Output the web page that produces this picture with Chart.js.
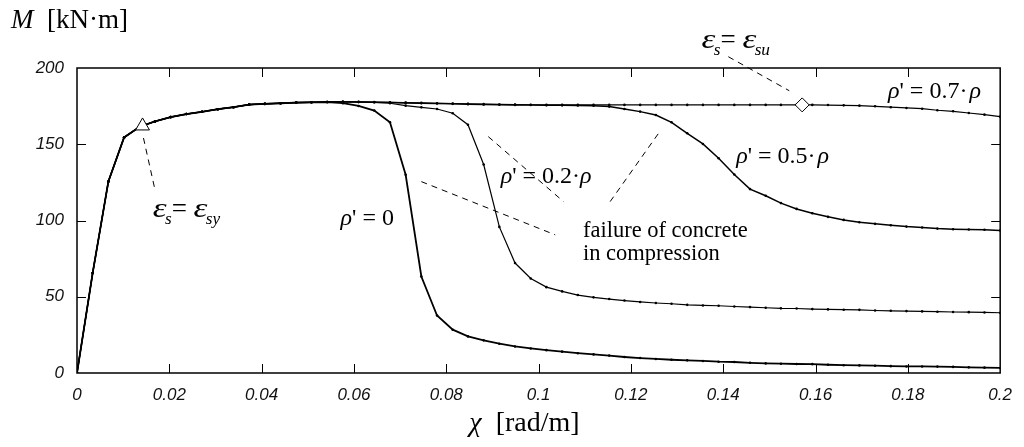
<!DOCTYPE html>
<html>
<head>
<meta charset="utf-8">
<script src="https://cdn.jsdelivr.net/npm/chart.js@4/dist/chart.umd.min.js"></script>
<style>
  html, body { margin: 0; padding: 0; background: #fff; }
  #wrap { width: 1024px; height: 447px; }
</style>
</head>
<body>
<div id="wrap"><canvas id="myChart" width="1024" height="447"></canvas></div>
<script>
// curvature chi [rad/m] (one point per marker dot)
const chi = [0, 0.0034, 0.0068, 0.0102, 0.0136, 0.0169, 0.0203, 0.0237, 0.0271, 0.0305,
  0.0339, 0.0373, 0.0407, 0.0441, 0.0475, 0.0508, 0.0542, 0.0576, 0.0610, 0.0644,
  0.0678, 0.0712, 0.0746, 0.0780, 0.0814, 0.0847, 0.0881, 0.0915, 0.0949, 0.0983,
  0.1017, 0.1051, 0.1085, 0.1119, 0.1153, 0.1186, 0.1220, 0.1254, 0.1288, 0.1322,
  0.1356, 0.1390, 0.1424, 0.1458, 0.1492, 0.1525, 0.1559, 0.1593, 0.1627, 0.1661,
  0.1695, 0.1729, 0.1763, 0.1797, 0.1831, 0.1864, 0.1898, 0.1932, 0.1966, 0.2];

// moment M [kN·m] for each compression reinforcement ratio
const mRho0 = [0, 65.6, 125.6, 154.5, 161.5, 165, 167.8, 169.8, 171.3, 173,
  174.3, 176, 176.5, 176.9, 177.3, 177.5, 177.7, 176.9, 175.1, 172.1,
  164.4, 130, 63.3, 37.7, 28.4, 24.0, 21.4, 19.2, 17.4, 16.1,
  15.0, 14.0, 13.0, 12.2, 11.4, 10.5, 9.8, 9.2, 8.7, 8.3,
  7.9, 7.4, 7.2, 6.7, 6.3, 6.1, 5.9, 5.8, 5.4, 5.1,
  5.0, 4.8, 4.5, 4.3, 4.3, 4.2, 4.0, 3.7, 3.5, 3.3];

const mRho02 = [0, 65.6, 125.6, 154.5, 161.5, 165, 167.8, 169.8, 171.3, 173,
  174.3, 176, 176.5, 176.9, 177.3, 177.5, 177.7, 177.8, 177.7, 177.5,
  176.9, 175.3, 174.2, 173.1, 170.3, 162.8, 136.7, 95.8, 72.1, 62.0,
  56.3, 53.5, 51.1, 49.6, 48.5, 47.5, 46.6, 45.9, 45.4, 44.7,
  44.3, 44.1, 43.6, 43.2, 42.8, 42.4, 42.3, 41.9, 41.7, 41.5,
  41.4, 41.0, 40.8, 40.6, 40.4, 40.2, 40.0, 39.9, 39.7, 39.5];

const mRho05 = [0, 65.6, 125.6, 154.5, 161.5, 165, 167.8, 169.8, 171.3, 173,
  174.3, 176, 176.5, 176.9, 177.3, 177.5, 177.7, 177.8, 177.7, 177.5,
  177.3, 177.1, 176.9, 176.7, 176.5, 176.3, 176.1, 175.9, 175.8, 175.7,
  175.6, 175.5, 175.4, 175.3, 174.7, 173.1, 171.4, 169.2, 164.4, 157.2,
  150.2, 140.8, 130.2, 120.6, 116.2, 111.4, 107.6, 104.8, 102.4, 100.4,
  98.9, 97.8, 96.9, 96.0, 95.4, 94.7, 94.3, 94.1, 93.9, 93.4];

const mRho07 = [0, 65.6, 125.6, 154.5, 161.5, 165, 167.8, 169.8, 171.3, 173,
  174.3, 176, 176.5, 176.9, 177.3, 177.5, 177.7, 177.8, 177.8, 177.7,
  177.5, 177.3, 177.1, 176.9, 176.7, 176.5, 176.3, 176.1, 176.0, 175.9,
  175.8, 175.8, 175.8, 175.8, 175.8, 175.8, 175.8, 175.8, 175.8, 175.8,
  175.8, 175.8, 175.8, 175.8, 175.8, 175.8, 175.8, 175.8, 175.7, 175.5,
  175.3, 174.9, 174.3, 173.8, 173.3, 172.3, 171.6, 170.5, 169.4, 168.1];

// yield (eps_s = eps_sy) and ultimate steel strain (eps_s = eps_su) points
const yieldPt = { x: 0.0142, y: 162 };
const ultPt = { x: 0.1571, y: 175.8 };

const xTicks = [0, 0.02, 0.04, 0.06, 0.08, 0.1, 0.12, 0.14, 0.16, 0.18, 0.2];
const yTicks = [0, 50, 100, 150, 200];

// dashed leader lines, in data units [x1, y1, x2, y2]
const leaders = [
  [0.0144, 154.1, 0.0168, 121.4],
  [0.1411, 207.4, 0.1543, 185.1],
  [0.0746, 125.5, 0.1036, 90.6],
  [0.0891, 155.0, 0.1054, 112.4],
  [0.1259, 156.8, 0.1155, 112.4]
];

const serif = '"Liberation Serif", "Times New Roman", serif';
const sans = '"Liberation Sans", Arial, sans-serif';

// text labels placed in data units (x = left edge, y = baseline)
const notes = [
  { x: 0.1757, y: 180.4, size: 24, runs: [{ t: 'ρ', it: 1 }, { t: "' = 0.7·\u200a" }, { t: 'ρ', it: 1 }] },
  { x: 0.1428, y: 137.4, size: 24, runs: [{ t: 'ρ', it: 1 }, { t: "' = 0.5·\u200a" }, { t: 'ρ', it: 1 }] },
  { x: 0.0918, y: 124.8, size: 24, runs: [{ t: 'ρ', it: 1 }, { t: "' = 0.2·" }, { t: 'ρ', it: 1 }] },
  { x: 0.0571, y: 97.2, size: 24, runs: [{ t: 'ρ', it: 1 }, { t: "' = 0" }] },
  { x: 0.0164, y: 102.0, size: 27, runs: [{ t: 'ε', it: 1, sx: 1.3 }, { t: 's', it: 1, sub: 1 }, { t: '= ' }, { t: 'ε', it: 1, sx: 1.3 }, { t: 'sy', it: 1, sub: 1 }] },
  { x: 0.1353, y: 213.2, size: 27, runs: [{ t: 'ε', it: 1, sx: 1.3 }, { t: 's', it: 1, sub: 1 }, { t: '= ' }, { t: 'ε', it: 1, sx: 1.3 }, { t: 'su', it: 1, sub: 1 }] },
  { x: 0.1096, y: 89.3, size: 22.5, runs: [{ t: 'failure of concrete' }] },
  { x: 0.1096, y: 74.0, size: 22.5, runs: [{ t: 'in compression' }] }
];

function pairs(ys) {
  return ys.map((v, i) => ({ x: chi[i], y: v }));
}

function drawRuns(ctx, x, y, runs, size) {
  let cx = x;
  for (const r of runs) {
    const fs = r.sub ? size * 0.64 : size;
    const sx = r.sx || 1;
    ctx.font = (r.it ? 'italic ' : '') + fs + 'px ' + serif;
    if (r.sub) cx -= size * 0.06;
    ctx.save();
    ctx.translate(cx, y + (r.sub ? size * 0.26 : 0));
    ctx.scale(sx, 1);
    ctx.fillText(r.t, 0, 0);
    ctx.restore();
    cx += ctx.measureText(r.t).width * sx;
  }
}

const extras = {
  id: 'extras',
  afterDatasetsDraw(chart) {
    const ctx = chart.ctx;
    const xs = chart.scales.x, ys = chart.scales.y;
    const a = chart.chartArea;
    ctx.save();
    ctx.strokeStyle = '#000';
    ctx.fillStyle = '#000';

    // frame
    ctx.lineWidth = 1.5;
    ctx.strokeRect(a.left, a.top, a.right - a.left, a.bottom - a.top);

    // inward ticks
    ctx.lineWidth = 1;
    ctx.beginPath();
    xTicks.slice(1, -1).forEach(v => {
      const px = Math.round(xs.getPixelForValue(v)) + 0.5;
      ctx.moveTo(px, a.bottom); ctx.lineTo(px, a.bottom - 9);
      ctx.moveTo(px, a.top); ctx.lineTo(px, a.top + 9);
    });
    yTicks.slice(1, -1).forEach(v => {
      const py = Math.round(ys.getPixelForValue(v)) + 0.5;
      ctx.moveTo(a.left, py); ctx.lineTo(a.left + 9, py);
      ctx.moveTo(a.right, py); ctx.lineTo(a.right - 9, py);
    });
    ctx.stroke();

    // leaders
    ctx.setLineDash([6, 5]);
    ctx.lineWidth = 1;
    leaders.forEach(l => {
      ctx.beginPath();
      ctx.moveTo(xs.getPixelForValue(l[0]), ys.getPixelForValue(l[1]));
      ctx.lineTo(xs.getPixelForValue(l[2]), ys.getPixelForValue(l[3]));
      ctx.stroke();
    });
    ctx.setLineDash([]);

    // notes
    ctx.textBaseline = 'alphabetic';
    ctx.textAlign = 'left';
    notes.forEach(n => {
      drawRuns(ctx, xs.getPixelForValue(n.x), ys.getPixelForValue(n.y), n.runs, n.size);
    });

    // axis titles
    drawRuns(ctx, a.left - 66, a.top - 40, [{ t: 'M', it: 1 }, { t: '  [kN·m]' }], 27);
    drawRuns(ctx, xs.getPixelForValue(0.085), a.bottom + 58, [{ t: 'χ', it: 1 }, { t: '  [rad/m]' }], 28);
    ctx.restore();
  }
};

const curve = (label, ys, w) => ({
  label: label,
  data: pairs(ys),
  showLine: true,
  borderColor: '#000',
  borderWidth: w,
  pointRadius: 1.3,
  pointBackgroundColor: '#000',
  pointBorderWidth: 0,
  tension: 0,
  order: 2
});

new Chart('myChart', {
  type: 'scatter',
  data: {
    datasets: [
      {
        label: 'eps_sy', data: [yieldPt], pointStyle: 'triangle', pointRadius: 8,
        backgroundColor: '#fff', borderColor: '#000', borderWidth: 1, order: 0
      },
      {
        label: 'eps_su', data: [ultPt], pointStyle: 'rectRot', pointRadius: 7,
        backgroundColor: '#fff', borderColor: '#000', borderWidth: 1, order: 0
      },
      curve("rho' = 0", mRho0, 1.8),
      curve("rho' = 0.2 rho", mRho02, 1.2),
      curve("rho' = 0.5 rho", mRho05, 1.5),
      curve("rho' = 0.7 rho", mRho07, 1.2)
    ]
  },
  options: {
    responsive: false,
    animation: false,
    layout: { padding: { left: 0, top: 68, right: 14, bottom: 0 } },
    plugins: { legend: { display: false }, tooltip: { enabled: false } },
    scales: {
      x: {
        type: 'linear', min: 0, max: 0.2,
        afterFit: s => { s.height = 74; },
        afterBuildTicks: s => { s.ticks = xTicks.map(v => ({ value: v })); },
        grid: { display: false, drawTicks: false },
        border: { display: false },
        ticks: {
          padding: 12, color: '#111', maxRotation: 0, autoSkip: false,
          font: { family: sans, size: 17, style: 'italic' },
          callback: v => String(Number(v.toFixed(2)))
        }
      },
      y: {
        type: 'linear', min: 0, max: 200,
        afterFit: s => { s.width = 77; },
        afterBuildTicks: s => { s.ticks = yTicks.map(v => ({ value: v })); },
        grid: { display: false, drawTicks: false },
        border: { display: false },
        ticks: {
          padding: 13, color: '#111',
          font: { family: sans, size: 17, style: 'italic' }
        }
      }
    }
  },
  plugins: [extras]
});
</script>
</body>
</html>
